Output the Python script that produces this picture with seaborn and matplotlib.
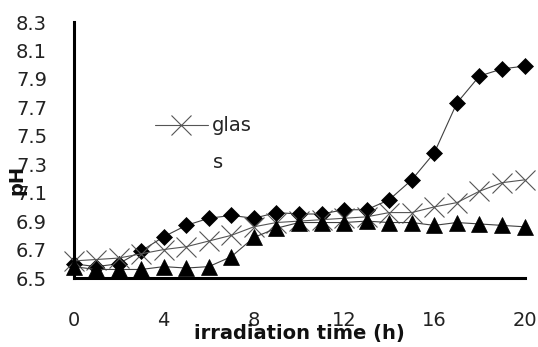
import matplotlib
matplotlib.use("Agg")
import matplotlib.pyplot as plt
import seaborn as sns
import numpy as np

# ---------------- data ----------------
hours = list(range(0, 21))
ph_diamond = [6.60, 6.58, 6.60, 6.69, 6.79, 6.87, 6.92, 6.94, 6.92, 6.96, 6.95,
              6.95, 6.98, 6.98, 7.05, 7.19, 7.38, 7.73, 7.92, 7.97, 7.99]
ph_glass = [6.62, 6.63, 6.64, 6.67, 6.70, 6.72, 6.76, 6.80, 6.86, 6.89, 6.90,
            6.91, 6.92, 6.93, 6.96, 6.96, 7.00, 7.03, 7.11, 7.17, 7.19]
ph_triangle = [6.58, 6.56, 6.56, 6.56, 6.58, 6.57, 6.58, 6.65, 6.785, 6.85, 6.89,
               6.89, 6.89, 6.90, 6.89, 6.89, 6.87, 6.89, 6.88, 6.87, 6.86]
x_ticks = [0, 4, 8, 12, 16, 20]
y_ticks = [6.5, 6.7, 6.9, 7.1, 7.3, 7.5, 7.7, 7.9, 8.1, 8.3]
y_tick_labels = ["6.5", "6.7", "6.9", "7.1", "7.3", "7.5", "7.7", "7.9", "8.1", "8.3"]
legend_label_top = "glas"
legend_label_wrap = "s"
x_label = "irradiation time (h)"
y_label = "pH"

# ---------------- style ----------------
sns.set_style("white")
plt.rcParams["font.family"] = ["DejaVu Sans"]

W, H = 538, 347
fig = plt.figure(figsize=(W / 100, H / 100), dpi=100)
ax = fig.add_axes([73.5 / W, (H - 278) / H, 451 / W, 256 / H])

line_kw = dict(linewidth=0.8, clip_on=False, legend=False, ax=ax)

sns.lineplot(x=hours, y=ph_diamond, color="#404040", marker="D", markersize=8,
             markerfacecolor="black", markeredgecolor="black", markeredgewidth=0.5,
             **line_kw)
sns.lineplot(x=hours, y=ph_glass, color="#555555", marker="x", markersize=14,
             markeredgecolor="#555555", markeredgewidth=0.8, **line_kw)
glass_line = ax.lines[-1]
sns.lineplot(x=hours, y=ph_triangle, color="#404040", marker="^", markersize=11,
             markerfacecolor="black", markeredgecolor="black", markeredgewidth=0.5,
             **line_kw)

ax.set_xlim(0, 20)
ax.set_ylim(6.5, 8.3)
ax.set_xticks(x_ticks)
ax.set_xticklabels([str(t) for t in x_ticks])
ax.set_yticks(y_ticks)
ax.set_yticklabels(y_tick_labels)

for s in ["top", "right"]:
    ax.spines[s].set_visible(False)
for s in ["left", "bottom"]:
    ax.spines[s].set_color("black")
    ax.spines[s].set_linewidth(2.2)

ax.tick_params(axis="both", direction="in", length=3.6, width=1.6, color="black",
               labelsize=14, labelcolor="#222222")
ax.tick_params(axis="x", pad=24)
ax.tick_params(axis="y", pad=19)

ax.set_xlabel(x_label, fontsize=14, fontweight="bold", va="center", color="#111111")
ax.xaxis.set_label_coords(0.5, (278 - 333) / 256)
ax.set_ylabel(y_label, fontsize=14, fontweight="bold", va="center", color="#111111")
ax.yaxis.set_label_coords((17 - 73.5) / 451, (278 - 180) / 256)

leg = ax.legend([glass_line], [legend_label_top], loc="center left",
                bbox_to_anchor=(155 / W, 1 - 126 / H), bbox_transform=fig.transFigure,
                frameon=False, fontsize=14, handlelength=2.7, handletextpad=0.2,
                borderpad=0, borderaxespad=0)
fig.text(213 / W, 1 - 163 / H, legend_label_wrap, fontsize=14, ha="left",
         va="center", color="#222222")

fig.savefig("out.png", dpi=100, facecolor="white")
